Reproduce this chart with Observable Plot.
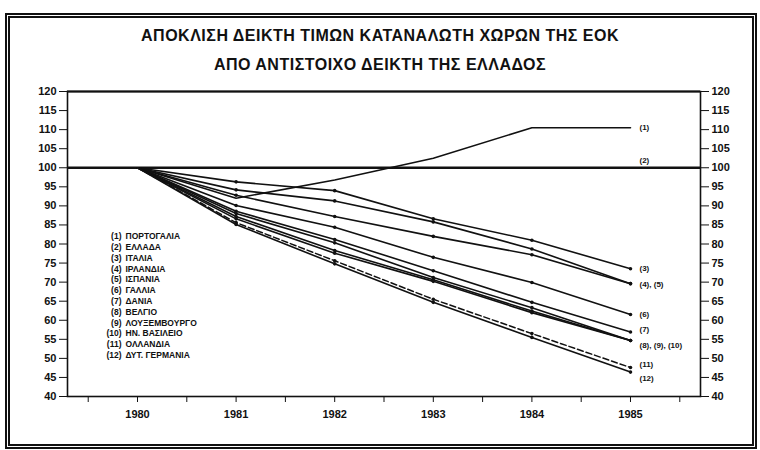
<!DOCTYPE html>
<html>
<head>
<meta charset="utf-8">
<script src="https://cdn.jsdelivr.net/npm/d3@7"></script>
<script src="https://cdn.jsdelivr.net/npm/@observablehq/plot@0.6"></script>
<style>
  html, body { margin: 0; padding: 0; background: #fff; }
  #wrap { position: relative; width: 760px; height: 450px; overflow: hidden; font-family: "Liberation Sans", Arial, sans-serif; }
  #border { position: absolute; left: 5px; top: 13px; width: 742px; height: 426px; border: 5px double #111; }
  #title { position: absolute; left: 0; top: 21px; width: 760px; text-align: center; font-weight: bold; font-size: 16px; letter-spacing: 0.5px; color: #111; line-height: 29px; }
  #chart { position: absolute; left: 0; top: 80px; }
</style>
</head>
<body>
<div id="wrap">
  <div id="border"></div>
  <div id="title">ΑΠΟΚΛΙΣΗ ΔΕΙΚΤΗ ΤΙΜΩΝ ΚΑΤΑΝΑΛΩΤΗ ΧΩΡΩΝ ΤΗΣ ΕΟΚ<br>ΑΠΟ ΑΝΤΙΣΤΟΙΧΟ ΔΕΙΚΤΗ ΤΗΣ ΕΛΛΑΔΟΣ</div>
  <div id="chart"></div>
</div>
<script>
// ---- data ----
const years = [1980, 1981, 1982, 1983, 1984, 1985];
const portugal    = [100, 92.0, 96.8, 102.5, 110.5, 110.5];
const greece      = [100, 100, 100, 100, 100, 100];
const italy       = [100, 96.3, 94.0, 86.6, 81.0, 73.5];
const ireland     = [100, 94.2, 91.3, 85.8, 78.7, 69.6];
const spain       = [100, 92.8, 87.2, 82.0, 77.2, 69.6];
const france      = [100, 90.1, 84.4, 76.5, 69.9, 61.5];
const denmark     = [100, 88.6, 81.2, 73.0, 64.7, 56.9];
const belgium     = [100, 88.0, 80.3, 71.2, 63.3, 54.7];
const luxembourg  = [100, 87.2, 78.3, 70.6, 62.4, 54.7];
const uk          = [100, 86.6, 77.6, 70.2, 62.0, 54.7];
const netherlands = [100, 85.6, 75.6, 65.5, 56.5, 47.6];
const wgermany    = [100, 85.1, 74.8, 64.7, 55.5, 46.4];

const seriesNames = ["ΠΟΡΤΟΓΑΛΙΑ", "ΕΛΛΑΔΑ", "ΙΤΑΛΙΑ", "ΙΡΛΑΝΔΙΑ", "ΙΣΠΑΝΙΑ", "ΓΑΛΛΙΑ", "ΔΑΝΙΑ", "ΒΕΛΓΙΟ", "ΛΟΥΞΕΜΒΟΥΡΓΟ", "ΗΝ. ΒΑΣΙΛΕΙΟ", "ΟΛΛΑΝΔΙΑ", "ΔΥΤ. ΓΕΡΜΑΝΙΑ"];
const seriesNums = ["(1)", "(2)", "(3)", "(4)", "(5)", "(6)", "(7)", "(8)", "(9)", "(10)", "(11)", "(12)"];
const seriesValues = [portugal, greece, italy, ireland, spain, france, denmark, belgium, luxembourg, uk, netherlands, wgermany];
const dashedSeries = ["(11)"];

const endLabels = ["(1)", "(2)", "(3)", "(4), (5)", "(6)", "(7)", "(8), (9), (10)", "(11)", "(12)"];
const endLabelSeries = [0, 1, 2, 3, 5, 6, 7, 10, 11];
const endLabelDy = [0, -7, 0, 1, 0, -3, 5, -3, 6];

const yTicks = d3.range(40, 121, 5);
const xTicks = d3.range(1979.5, 1986, 0.5);

// ---- build tidy table ----
const rows = [];
seriesValues.forEach((vals, i) => {
  vals.forEach((v, j) => rows.push({series: seriesNums[i], idx: i, year: years[j], value: v}));
});
const solidRows = rows.filter(d => d.idx !== 1 && !dashedSeries.includes(d.series));
const dashedRows = rows.filter(d => dashedSeries.includes(d.series));
const dotRows = rows.filter(d => d.idx >= 2 && d.year > 1980);
const last = years.length - 1;
const labelMarks = endLabels.map((t, k) =>
  Plot.text([{text: t, year: years[last], value: seriesValues[endLabelSeries[k]][last]}], {
    x: "year", y: "value", text: "text", dx: 9, dy: endLabelDy[k],
    textAnchor: "start", fontSize: 8, fontWeight: "bold"
  })
);

const chart = Plot.plot({
  width: 760,
  height: 370,
  marginTop: 11,
  marginBottom: 54,
  marginLeft: 67,
  marginRight: 60,
  style: {fontFamily: "'Liberation Sans', Arial, sans-serif", fontWeight: "bold", fontSize: "11px", color: "#111", background: "transparent"},
  x: {domain: [1979.29, 1985.71]},
  y: {domain: [40, 120]},
  marks: [
    Plot.frame({stroke: "#111", strokeWidth: 1.6}),
    Plot.ruleY([120], {stroke: "#111", strokeWidth: 2.2}),
    Plot.ruleY([greece[0]], {stroke: "#111", strokeWidth: 2.6}),
    Plot.line(solidRows, {x: "year", y: "value", z: "series", stroke: "#111", strokeWidth: 1.6}),
    Plot.line(dashedRows, {x: "year", y: "value", z: "series", stroke: "#111", strokeWidth: 1.5, strokeDasharray: "6,3"}),
    Plot.dot(dotRows, {x: "year", y: "value", r: 1.8, fill: "#111"}),
    Plot.axisY({anchor: "left", ticks: yTicks, tickSize: 8, tickPadding: 3, label: null}),
    Plot.axisY({anchor: "right", ticks: yTicks, tickSize: 8, tickPadding: 3, label: null}),
    Plot.axisX({ticks: xTicks, tickSize: 6, tickPadding: 8, label: null, tickFormat: d => Number.isInteger(d) ? String(d) : ""}),
    ...labelMarks,
    Plot.text([seriesNums.join("\n")], {frameAnchor: "top-left", dx: 54, dy: 140, textAnchor: "end", lineAnchor: "top", lineHeight: 1.27, fontSize: 8.5, fontWeight: "bold"}),
    Plot.text([seriesNames.join("\n")], {frameAnchor: "top-left", dx: 58, dy: 140, textAnchor: "start", lineAnchor: "top", lineHeight: 1.27, fontSize: 8.5, fontWeight: "bold"})
  ]
});
document.getElementById("chart").appendChild(chart);
</script>
</body>
</html>
